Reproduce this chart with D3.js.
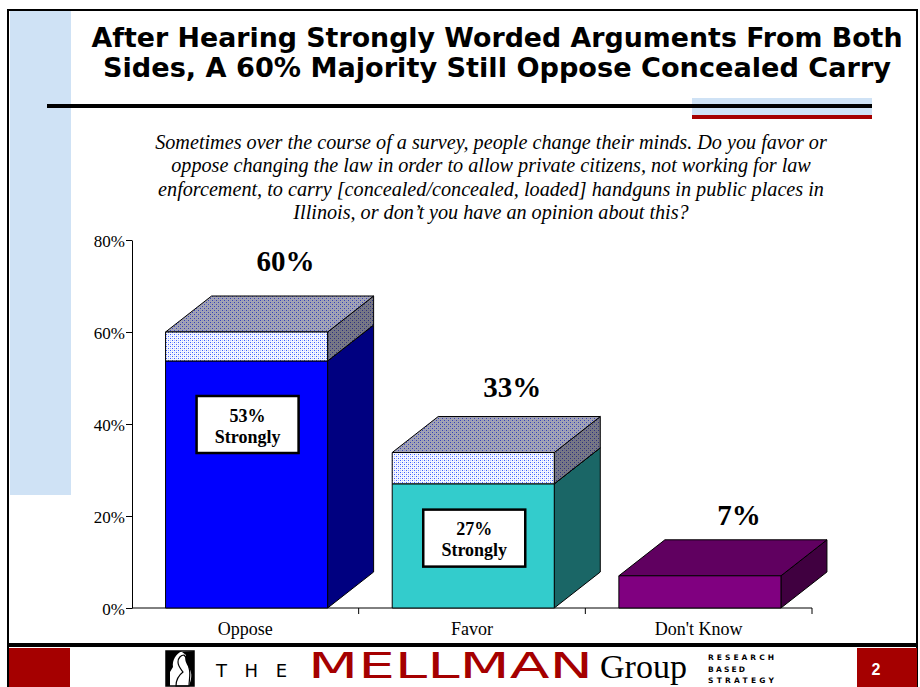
<!DOCTYPE html>
<html><head><meta charset="utf-8">
<script src="https://cdn.jsdelivr.net/npm/d3@7"></script>
<style>html,body{margin:0;padding:0;background:#fff;}svg{display:block;}</style>
</head><body>
<svg id="c" width="920" height="687"></svg>
<script>
// ---- data ----
const categories = ["Oppose", "Favor", "Don't Know"];
const totalValues = [60, 33.8, 7];
const strongValues = [53.7, 27, null];
const totalLabels = ["60%", "33%", "7%"];
const strongLabels = ["53%", "27%", null];
const yTicks = [0, 20, 40, 60, 80];
const titleLines = ["After Hearing Strongly Worded Arguments From Both", "Sides, A 60% Majority Still Oppose Concealed Carry"];
const questionLines = [
  "Sometimes over the course of a survey, people change their minds. Do you favor or",
  "oppose changing the law in order to allow private citizens, not working for law",
  "enforcement, to carry [concealed/concealed, loaded] handguns in public places in",
  "Illinois, or don\u2019t you have an opinion about this?"
];

// ---- colours ----
const solid = [
  {front: "#0000ff", top: "#0000c0", side: "#000080"},
  {front: "#33cccc", top: "#269999", side: "#1a6666"},
  {front: "#800080", top: "#600060", side: "#400040"}
];

const svg = d3.select("#c");
const defs = svg.append("defs");
function pat(id, bg, d1, d2) {
  const p = defs.append("pattern").attr("id", id).attr("width", 4).attr("height", 4).attr("patternUnits", "userSpaceOnUse");
  p.append("rect").attr("width", 4).attr("height", 4).attr("fill", bg);
  [[0,0,d1],[2,2,d1],[2,0,d2],[0,2,d2]].forEach(([x,y,c]) => p.append("rect").attr("x", x).attr("y", y).attr("width", 1).attr("height", 1).attr("fill", c));
}
pat("pFront", "#f4f6ff", "#3a5cff", "#b4c2ff");
pat("pTop", "#a4a4b4", "#3440b8", "#8e92b8");
pat("pSide", "#787884", "#2c3080", "#6a6c88");

// ---- page decoration ----
svg.append("rect").attr("x", 10).attr("y", 11).attr("width", 61).attr("height", 484).attr("fill", "#cfe2f5");
svg.append("line").attr("x1", 8).attr("x2", 8).attr("y1", 9).attr("y2", 687).attr("stroke", "#000").attr("stroke-width", 2);
svg.append("line").attr("x1", 917).attr("x2", 917).attr("y1", 9).attr("y2", 687).attr("stroke", "#000").attr("stroke-width", 2);
svg.append("line").attr("x1", 7).attr("x2", 918).attr("y1", 10).attr("y2", 10).attr("stroke", "#000").attr("stroke-width", 2);

// title
titleLines.forEach((t, i) => {
  svg.append("text").attr("x", 497).attr("y", 47 + i * 29.5)
    .attr("text-anchor", "middle")
    .attr("font-family", "DejaVu Sans, Verdana, sans-serif").attr("font-weight", "bold").attr("font-size", 26.5)
    .attr("textLength", i === 0 ? 811 : 788).attr("lengthAdjust", "spacingAndGlyphs")
    .text(t);
});
// header rules
svg.append("rect").attr("x", 692).attr("y", 98).attr("width", 180).attr("height", 17).attr("fill", "#cfe2f5");
svg.append("rect").attr("x", 47).attr("y", 104).attr("width", 825).attr("height", 4).attr("fill", "#000");
svg.append("rect").attr("x", 692).attr("y", 115).attr("width", 180).attr("height", 4).attr("fill", "#a50000");

// question
questionLines.forEach((t, i) => {
  svg.append("text").attr("x", 491).attr("y", 149 + i * 23.3)
    .attr("text-anchor", "middle")
    .attr("font-family", "Liberation Serif, Times New Roman, serif").attr("font-style", "italic").attr("font-size", 20.2)
    .text(t);
});

// ---- chart ----
const x = d3.scaleBand().domain(categories).range([132, 812]).padding(0);
const y = d3.scaleLinear().domain([0, 80]).range([608, 240]);
const bw = x.bandwidth();
const dx = 46, dy = 36;
const frontX = c => x(c) + bw * 0.148;
const frontW = bw * 0.715;

// y axis
const yAxis = d3.axisLeft(y).tickValues(yTicks).tickFormat(d => d + "%").tickSize(6).tickSizeOuter(0);
const ya = svg.append("g").attr("transform", "translate(132,0)").call(yAxis);
ya.selectAll("path,line").attr("stroke", "#000").attr("stroke-width", 1);
ya.selectAll("text").attr("font-family", "Liberation Serif, Times New Roman, serif").attr("font-size", 17).attr("fill", "#000").attr("x", -7).attr("dy", "0.36em");

// x axis
const xa = svg.append("g");
xa.append("line").attr("x1", x.range()[0]).attr("x2", x.range()[1]).attr("y1", y(0)).attr("y2", y(0)).attr("stroke", "#000");
categories.forEach(c => {
  xa.append("line").attr("x1", x(c) + bw).attr("x2", x(c) + bw).attr("y1", y(0)).attr("y2", y(0) + 6).attr("stroke", "#000");
  xa.append("text").attr("x", x(c) + bw / 2).attr("y", 635).attr("text-anchor", "middle")
    .attr("font-family", "Liberation Serif, Times New Roman, serif").attr("font-size", 18).text(c);
});

// 3D box segment
function box(g, c, v0, v1, fills) {
  const x0 = frontX(c), x1 = x0 + frontW;
  const yb = y(v0), yt = y(v1);
  const face = (pts, fill) => g.append("path").attr("d", d3.line()(pts) + "Z").attr("fill", fill)
    .attr("stroke", "#000").attr("stroke-width", 1).attr("stroke-linejoin", "round");
  face([[x1, yb], [x1 + dx, yb - dy], [x1 + dx, yt - dy], [x1, yt]], fills.side);
  face([[x0, yt], [x1, yt], [x1 + dx, yt - dy], [x0 + dx, yt - dy]], fills.top);
  face([[x0, yb], [x1, yb], [x1, yt], [x0, yt]], fills.front);
}

const bars = svg.append("g");
categories.forEach((c, i) => {
  const g = bars.append("g");
  const s = strongValues[i];
  if (s !== null) {
    box(g, c, 0, s, solid[i]);
    box(g, c, s, totalValues[i], {front: "url(#pFront)", top: "url(#pTop)", side: "url(#pSide)"});
  } else {
    box(g, c, 0, totalValues[i], solid[i]);
  }
  // total label
  svg.append("text").attr("x", frontX(c) + frontW / 2 + 39).attr("y", y(totalValues[i] * 1.045) - 49)
    .attr("text-anchor", "middle").attr("font-family", "Liberation Serif, Times New Roman, serif")
    .attr("font-weight", "bold").attr("font-size", 29).text(totalLabels[i]);
  // strongly label box
  if (s !== null) {
    const cx = frontX(c) + frontW / 2 + 1;
    const cy = y(s * 0.925) + 45;
    svg.append("rect").attr("x", cx - 51).attr("y", cy - 28.5).attr("width", 102).attr("height", 57)
      .attr("fill", "#fff").attr("stroke", "#000").attr("stroke-width", 2.5);
    svg.append("text").attr("x", cx).attr("y", cy - 3).attr("text-anchor", "middle")
      .attr("font-family", "Liberation Serif, Times New Roman, serif").attr("font-weight", "bold").attr("font-size", 18).text(strongLabels[i]);
    svg.append("text").attr("x", cx).attr("y", cy + 18).attr("text-anchor", "middle")
      .attr("font-family", "Liberation Serif, Times New Roman, serif").attr("font-weight", "bold").attr("font-size", 18).text("Strongly");
  }
});

// ---- footer ----
svg.append("rect").attr("x", 7).attr("y", 643).attr("width", 911).attr("height", 4).attr("fill", "#000");
svg.append("rect").attr("x", 9).attr("y", 648).attr("width", 61).attr("height", 39).attr("fill", "#a50000");
svg.append("rect").attr("x", 857).attr("y", 648).attr("width", 60).attr("height", 39).attr("fill", "#a50000");
svg.append("text").attr("x", 876).attr("y", 675).attr("text-anchor", "middle").attr("fill", "#fff")
  .attr("font-family", "Liberation Sans, Arial, sans-serif").attr("font-weight", "bold").attr("font-size", 16).text("2");

// logo icon (knight)
const icon = svg.append("g");
icon.append("rect").attr("x", 166).attr("y", 651).attr("width", 28).attr("height", 35).attr("fill", "#fff").attr("stroke", "#000").attr("stroke-width", 1.5);
icon.append("path").attr("d", "M166,651 L182,651 C176,654 172,660 173,667 L170,672 L170,686 L166,686 Z").attr("fill", "#000");
icon.append("path").attr("d", "M194,651 L194,686 L189,686 C191,680 193,674 189,668 C186,663 184,659 186,655 L182,652 Z").attr("fill", "#000");
icon.append("path").attr("d", "M176,686 C176,680 179,675 183,672 C180,668 178,666 178,662 C178,658 181,655 184,655 C187,658 189,663 189,668 C191,673 189,680 189,686 Z").attr("fill", "none").attr("stroke", "#000").attr("stroke-width", 1.2);

svg.append("text").attr("x", 216).attr("y", 677).attr("font-family", "DejaVu Sans, sans-serif").attr("font-size", 18)
  .attr("textLength", 71).attr("lengthAdjust", "spacing").text("THE");
svg.append("text").attr("x", 308).attr("y", 678).attr("fill", "#a50000").attr("font-family", "DejaVu Sans, sans-serif").attr("font-size", 36)
  .attr("textLength", 285).attr("lengthAdjust", "spacingAndGlyphs").text("MELLMAN");
svg.append("text").attr("x", 600).attr("y", 678).attr("font-family", "Liberation Serif, Times New Roman, serif").attr("font-size", 34)
  .attr("textLength", 87).attr("lengthAdjust", "spacingAndGlyphs").text("Group");
[["RESEARCH", 660, 66], ["BASED", 671.5, 37], ["STRATEGY", 683, 66]].forEach(([t, yy, w]) => {
  svg.append("text").attr("x", 708).attr("y", yy).attr("font-family", "DejaVu Sans, sans-serif").attr("font-weight", "bold").attr("font-size", 7.5)
    .attr("textLength", w).attr("lengthAdjust", "spacing").text(t);
});
</script>
</body></html>
